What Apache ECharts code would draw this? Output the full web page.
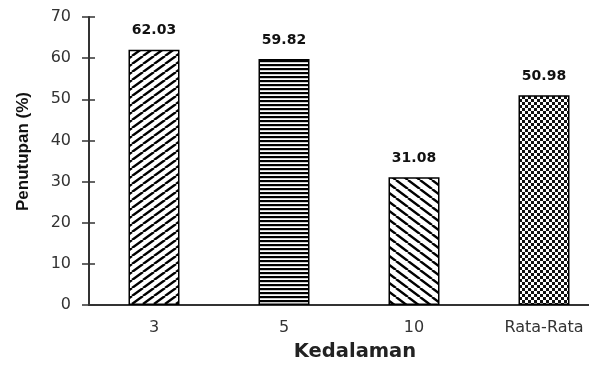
<!DOCTYPE html>
<html>
<head>
<meta charset="utf-8">
<script src="https://cdn.jsdelivr.net/npm/echarts@6/dist/echarts.min.js"></script>
<style>
html,body{margin:0;padding:0;background:#fff;overflow:hidden;}
#wrap{width:589px;height:367px;overflow:hidden;}
#chart{width:609px;height:367px;}
</style>
</head>
<body>
<div id="wrap"><div id="chart"></div></div>
<script>
// Data
const categories = ['3', '5', '10', 'Rata-Rata'];
const values = [62.03, 59.82, 31.08, 50.98];
const valueLabels = ['62.03', '59.82', '31.08', '50.98'];
const yTicks = [0, 10, 20, 30, 40, 50, 60, 70];
const patternTypes = ['slash', 'horizontal', 'backslash', 'checker'];

function makePattern(type) {
  const c = document.createElement('canvas');
  const ctx = c.getContext('2d');
  if (type === 'slash' || type === 'backslash') {
    const w = type === 'slash' ? 11 : 12;
    const h = type === 'slash' ? 8 : 9;
    c.width = w; c.height = h;
    ctx.fillStyle = '#fff'; ctx.fillRect(0, 0, w, h);
    ctx.strokeStyle = '#000'; ctx.lineWidth = 2.4;
    ctx.beginPath();
    for (let k = -1; k <= 1; k++) {
      if (type === 'slash') {
        ctx.moveTo(k * w, h); ctx.lineTo(k * w + w, 0);
      } else {
        ctx.moveTo(k * w, 0); ctx.lineTo(k * w + w, h);
      }
    }
    ctx.stroke();
  } else if (type === 'horizontal') {
    c.width = 4; c.height = 4;
    ctx.fillStyle = '#fff'; ctx.fillRect(0, 0, 4, 4);
    ctx.fillStyle = '#000'; ctx.fillRect(0, 0, 4, 2.2);
  } else {
    c.width = 6; c.height = 6;
    ctx.fillStyle = '#fff'; ctx.fillRect(0, 0, 6, 6);
    ctx.fillStyle = '#111';
    ctx.fillRect(0, 0, 3, 3); ctx.fillRect(3, 3, 3, 3);
  }
  return c;
}

const chart = echarts.init(document.getElementById('chart'), null, {renderer: 'canvas', width: 609, height: 367});
const tickFont = {fontFamily: 'DejaVu Sans', fontSize: 16, color: '#333'};

const seriesData = values.map((v, i) => ({
  value: v,
  itemStyle: {
    color: {image: makePattern(patternTypes[i]), repeat: 'repeat'},
    borderColor: '#000', borderWidth: 1.5
  },
  label: {formatter: valueLabels[i]}
}));

const baseY = {
  type: 'value', min: yTicks[0], max: yTicks[yTicks.length - 1], interval: 10,
  splitLine: {show: false}
};

chart.setOption({
  animation: false,
  backgroundColor: '#fff',
  grid: {left: 89, top: 17, right: 0, height: 289},
  xAxis: [
    {
      type: 'category', data: categories,
      axisLine: {lineStyle: {color: '#333', width: 2}},
      axisTick: {length: 5, lineStyle: {color: '#333', width: 1.5}},
      axisLabel: Object.assign({margin: 15}, tickFont),
      name: 'Kedalaman', nameLocation: 'middle', nameGap: 37,
      nameTextStyle: {fontFamily: 'DejaVu Sans', fontWeight: 'bold', fontSize: 19.5, color: '#222', padding: [0, 0, 0, 12]}
    },
    {
      type: 'category', data: categories, position: 'bottom',
      axisLine: {show: false},
      axisTick: {inside: true, length: 4, lineStyle: {color: '#333', width: 1.5}},
      axisLabel: {show: false}
    },
    {
      type: 'category', data: categories, position: 'bottom',
      axisLine: {show: false},
      axisTick: {alignWithLabel: true, length: 3, lineStyle: {color: '#333', width: 1}},
      axisLabel: {show: false}
    }
  ],
  yAxis: [
    Object.assign({}, baseY, {
      axisLine: {show: true, lineStyle: {color: '#333', width: 2}},
      axisTick: {show: true, length: 7, lineStyle: {color: '#333', width: 1.5}},
      axisLabel: Object.assign({margin: 18}, tickFont),
      name: 'Penutupan (%)', nameLocation: 'middle', nameGap: 57,
      nameTextStyle: {fontFamily: 'Liberation Sans', fontWeight: 'bold', fontSize: 17, color: '#111', padding: [0, 0, 0, 19]}
    }),
    Object.assign({}, baseY, {
      position: 'left',
      axisLine: {show: false},
      axisTick: {show: true, inside: true, length: 6, lineStyle: {color: '#333', width: 1.5}},
      axisLabel: {show: false}
    })
  ],
  series: [{
    type: 'bar', xAxisIndex: 0, yAxisIndex: 0,
    data: seriesData, barWidth: 51,
    label: {
      show: true, position: 'top', distance: 12,
      fontFamily: 'DejaVu Sans', fontWeight: 'bold', fontSize: 14, color: '#111'
    }
  }]
});
</script>
</body>
</html>
